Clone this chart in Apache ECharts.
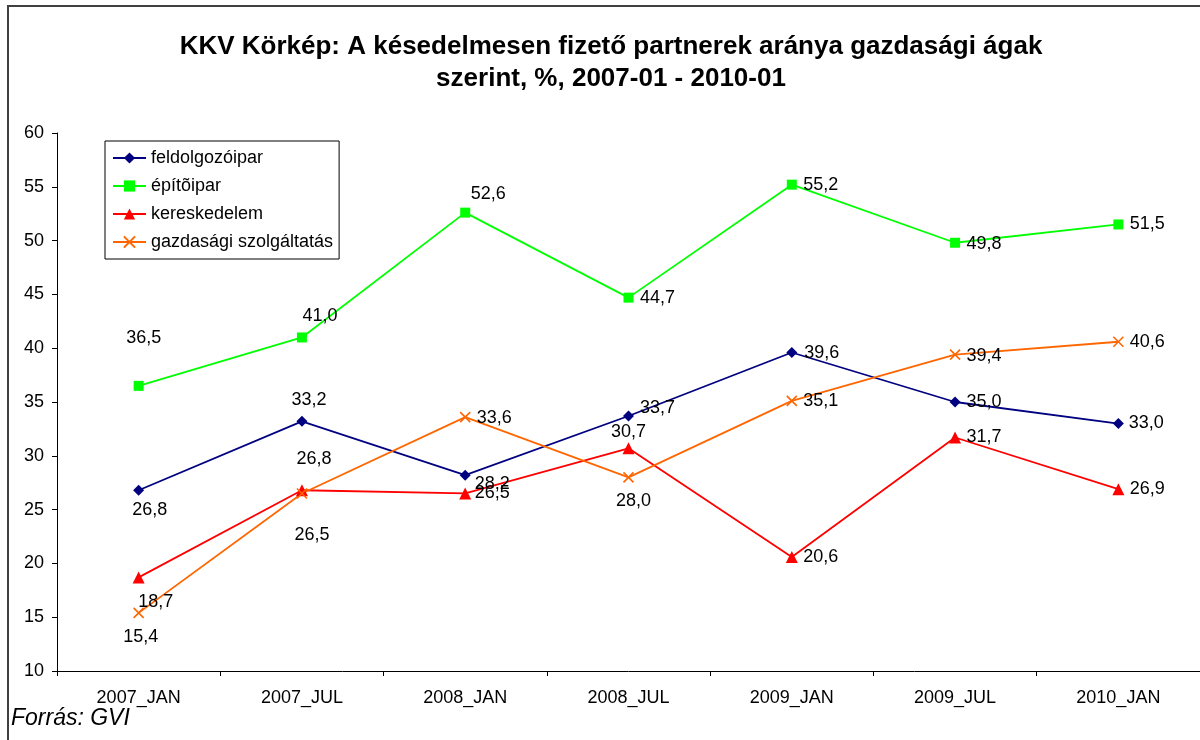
<!DOCTYPE html>
<html>
<head>
<meta charset="utf-8">
<script src="https://cdn.jsdelivr.net/npm/echarts@6/dist/echarts.min.js"></script>
<style>html,body{margin:0;padding:0;background:#fff}#c{width:1200px;height:740px}</style>
</head>
<body>
<div id="c"></div>
<script>
const categories = ['2007_JAN','2007_JUL','2008_JAN','2008_JUL','2009_JAN','2009_JUL','2010_JAN'];
const seriesNames = ['feldolgozóipar','építõipar','kereskedelem','gazdasági szolgáltatás'];
const feldolgozoipar = [26.8,33.2,28.2,33.7,39.6,35.0,33.0];
const epitoipar = [36.5,41.0,52.6,44.7,55.2,49.8,51.5];
const kereskedelem = [18.7,26.8,26.5,30.7,20.6,31.7,26.9];
const gazdasagi = [15.4,26.5,33.6,28.0,35.1,39.4,40.6];
const yTicks = {min:10, max:60, interval:5};

// label placement (offset of label centre from the point, px)
const labelOffsets = [
  [[11,20],[7,-21],[27,9],[29,-8],[30,1],[29,0],[28,0]],
  [[5,-48],[18,-21],[23,-19],[29,0],[29,0],[29,1],[29,0]],
  [[17,25],[12,-31],[27,0],[0,-16],[29,0],[29,0],[29,0]],
  [[2,24],[10,42],[29,1],[5,24],[29,0],[29,1],[29,0]]
];
const colors = ['#000080','#00FF00','#FF0000','#FF6600'];
const symbols = ['diamond','rect','triangle','path://M0,0L10,10M10,0L0,10'];
const sizes = [11,10,12,10];
const FONT = 'Liberation Sans, Arial, sans-serif';
const fmt = v => v.toFixed(1).replace('.', ',');

function mk(i, values){
  return {
    name: seriesNames[i], type:'line', data: values.map((v,j)=>({
      value:v,
      label:{show:true, position:'inside', offset:labelOffsets[i][j]}
    })),
    symbol: symbols[i], symbolSize: sizes[i], symbolKeepAspect:true,
    showAllSymbol:true,
    lineStyle:{color:colors[i], width:1.8},
    itemStyle:{color: i===3 ? 'rgba(0,0,0,0)' : colors[i], borderColor: colors[i], borderWidth: i===3 ? 1.6 : 0},
    label:{show:true, color:'#000', fontSize:18, fontFamily:FONT, formatter:p=>fmt(p.value)},
    emphasis:{disabled:true},
    z: 3
  };
}

const chart = echarts.init(document.getElementById('c'), null, {renderer:'canvas'});
chart.setOption({
  animation:false,
  backgroundColor:'#fff',
  title:{
    text:'KKV Körkép: A késedelmesen fizető partnerek aránya gazdasági ágak\nszerint, %, 2007-01 - 2010-01',
    left:606, top:26, textAlign:'center',
    textStyle:{fontSize:26, fontWeight:'bold', fontFamily:FONT, color:'#000', lineHeight:32}
  },
  legend:{
    orient:'vertical', left:105, top:141,
    data: seriesNames,
    backgroundColor:'#fff', borderColor:'#000', borderWidth:1,
    padding:[8,6,8,7], itemGap:10, itemWidth:33, itemHeight:14,
    textStyle:{fontSize:18, fontFamily:FONT, color:'#000'},
    selectedMode:false
  },
  grid:{left:57, top:133, width:1147, height:538, containLabel:false},
  xAxis:{
    type:'category', data:categories, boundaryGap:true,
    axisLine:{show:true, lineStyle:{color:'#000', width:1}},
    axisTick:{show:true, length:5, lineStyle:{color:'#000'}},
    axisLabel:{fontSize:18, fontFamily:FONT, color:'#000', margin:18},
    splitLine:{show:false}
  },
  yAxis:{
    type:'value', min:yTicks.min, max:yTicks.max, interval:yTicks.interval,
    axisLine:{show:true, lineStyle:{color:'#000', width:1}},
    axisTick:{show:true, length:5, lineStyle:{color:'#000'}},
    axisLabel:{fontSize:18, fontFamily:FONT, color:'#000', margin:13},
    splitLine:{show:false}
  },
  graphic:[
    {type:'rect', shape:{x:8, y:6, width:1300, height:800}, style:{fill:null, stroke:'#404040', lineWidth:2}, silent:true, z:-1},
    {type:'text', left:11, top:707, style:{text:'Forrás: GVI', font:'italic 23px Liberation Sans, Arial, sans-serif', fill:'#000'}}
  ],
  series:[mk(0,feldolgozoipar), mk(1,epitoipar), mk(2,kereskedelem), mk(3,gazdasagi)]
});
</script>
</body>
</html>
